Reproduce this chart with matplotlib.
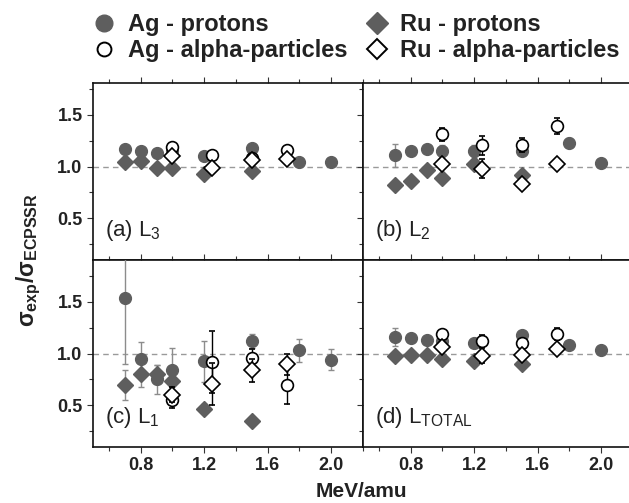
import matplotlib
matplotlib.use("Agg")
import matplotlib.pyplot as plt
from matplotlib.lines import Line2D
from matplotlib.ticker import MultipleLocator

plt.rcParams['font.family'] = ['Liberation Sans', 'DejaVu Sans']
plt.rcParams['mathtext.fontset'] = 'custom'
plt.rcParams['mathtext.rm'] = 'Liberation Sans'
plt.rcParams['mathtext.it'] = 'Liberation Sans:italic'
plt.rcParams['mathtext.bf'] = 'Liberation Sans:bold'

# energies (MeV/amu)
E_ag_p = [0.7, 0.8, 0.9, 1.0, 1.2, 1.5, 1.8, 2.0]
E_ru_p = [0.7, 0.8, 0.9, 1.0, 1.2, 1.5]
E_alpha = [1.0, 1.25, 1.5, 1.72]

# (a) L3
L3_ag_p = [1.17, 1.15, 1.13, 1.15, 1.10, 1.18, 1.04, 1.04]
L3_ag_p_err = [0.03, 0.02, 0.02, 0.02, 0.02, 0.03, 0.02, 0.02]
L3_ru_p = [1.045, 1.05, 0.99, 0.99, 0.93, 0.955]
L3_ru_p_err = [0.02, 0.02, 0.02, 0.02, 0.02, 0.02]
L3_ag_a = [1.19, 1.11, 1.08, 1.16]
L3_ag_a_err = [0.02, 0.02, 0.02, 0.02]
L3_ru_a = [1.105, 0.99, 1.06, 1.07]
L3_ru_a_err = [0.02, 0.02, 0.02, 0.02]

# (b) L2
L2_ag_p = [1.11, 1.15, 1.17, 1.15, 1.15, 1.15, 1.23, 1.035]
L2_ag_p_err = [0.11, 0.02, 0.02, 0.06, 0.06, 0.03, 0.04, 0.02]
L2_ru_p = [0.82, 0.86, 0.97, 0.89, 1.025, 0.92]
L2_ru_p_err = [0.02, 0.02, 0.02, 0.02, 0.02, 0.02]
L2_ag_a = [1.31, 1.205, 1.205, 1.39]
L2_ag_a_err = [0.06, 0.09, 0.07, 0.08]
L2_ru_a = [1.02, 0.98, 0.835, 1.025]
L2_ru_a_err = [0.02, 0.09, 0.02, 0.02]

# (c) L1
L1_ag_p = [1.535, 0.95, 0.75, 0.84, 0.925, 1.12, 1.03, 0.94]
L1_ag_p_err = [0.64, 0.16, 0.14, 0.21, 0.20, 0.07, 0.11, 0.10]
L1_ru_p = [0.695, 0.80, 0.80, 0.735, 0.47, 0.35]
L1_ru_p_err = [0.145, 0.12, 0.09, 0.10, 0.04, 0.02]
L1_ag_a = [0.55, 0.92, 0.96, 0.70]
L1_ag_a_err = [0.07, 0.30, 0.08, 0.19]
L1_ru_a = [0.605, 0.705, 0.84, 0.895]
L1_ru_a_err = [0.07, 0.20, 0.11, 0.10]

# (d) LTOTAL
Lt_ag_p = [1.16, 1.145, 1.13, 1.12, 1.10, 1.175, 1.08, 1.03]
Lt_ag_p_err = [0.09, 0.02, 0.02, 0.02, 0.02, 0.03, 0.02, 0.02]
Lt_ru_p = [0.975, 0.985, 0.985, 0.95, 0.93, 0.895]
Lt_ru_p_err = [0.02, 0.02, 0.02, 0.02, 0.02, 0.02]
Lt_ag_a = [1.19, 1.12, 1.10, 1.19]
Lt_ag_a_err = [0.03, 0.06, 0.03, 0.06]
Lt_ru_a = [1.06, 0.98, 0.99, 1.04]
Lt_ru_a_err = [0.03, 0.07, 0.03, 0.03]

panels = [
    ("(a) L$_{3}$", L3_ag_p, L3_ag_p_err, L3_ru_p, L3_ru_p_err, L3_ag_a, L3_ag_a_err, L3_ru_a, L3_ru_a_err),
    ("(b) L$_{2}$", L2_ag_p, L2_ag_p_err, L2_ru_p, L2_ru_p_err, L2_ag_a, L2_ag_a_err, L2_ru_a, L2_ru_a_err),
    ("(c) L$_{1}$", L1_ag_p, L1_ag_p_err, L1_ru_p, L1_ru_p_err, L1_ag_a, L1_ag_a_err, L1_ru_a, L1_ru_a_err),
    ("(d) L$_{\\mathrm{TOTAL}}$", Lt_ag_p, Lt_ag_p_err, Lt_ru_p, Lt_ru_p_err, Lt_ag_a, Lt_ag_a_err, Lt_ru_a, Lt_ru_a_err),
]

x_major = [0.8, 1.2, 1.6, 2.0]
ylims = [(0.1, 1.8), (0.1, 1.9)]

GREY = '#5e5e5e'
EGREY = '#8c8c8c'
ms_c = 8.5
ms_d = 8.0

fig = plt.figure(figsize=(6.29, 5.03), dpi=100)
W = 270 / 629
PX_PER_UNIT = 187 / 1.8
lefts = [93 / 629, 363 / 629]
row_bottom_px = [260, 447]

axes = []
for i, p in enumerate(panels):
    r, c = divmod(i, 2)
    y0, y1 = ylims[r]
    h_px = (y1 - y0) * PX_PER_UNIT
    ax = fig.add_axes([lefts[c], 1 - row_bottom_px[r] / 503, W, h_px / 503])
    axes.append(ax)
    label, agp, agpe, rup, rupe, aga, agae, rua, ruae = p
    ax.axhline(1.0, color='#9a9a9a', lw=1.0, ls=(0, (4, 3)), zorder=1)
    ax.errorbar(E_ag_p, agp, yerr=agpe, fmt='o', color=GREY, ecolor=EGREY,
                ms=ms_c, mec=GREY, elinewidth=1, capsize=2.5, capthick=1, zorder=3)
    ax.errorbar(E_ru_p, rup, yerr=rupe, fmt='D', color=GREY, ecolor=EGREY,
                ms=ms_d, mec=GREY, elinewidth=1, capsize=2.5, capthick=1, zorder=3)
    ax.errorbar(E_alpha, aga, yerr=agae, fmt='o', mfc='white', mec='black', mew=1.2,
                ecolor='black', ms=ms_c, elinewidth=1, capsize=2.5, capthick=1, zorder=4)
    ax.errorbar(E_alpha, rua, yerr=ruae, fmt='D', mfc='white', mec='black', mew=1.2,
                ecolor='black', ms=ms_d, elinewidth=1, capsize=2.5, capthick=1, zorder=5)
    ax.set_xlim(0.5, 2.2)
    ax.set_ylim(y0, y1)
    ax.set_xticks(x_major)
    ax.xaxis.set_minor_locator(MultipleLocator(0.2))
    ax.yaxis.set_major_locator(MultipleLocator(0.5))
    ax.yaxis.set_minor_locator(MultipleLocator(0.25))
    ax.tick_params(which='both', direction='out', top=True, right=True, width=0.8, color='#333333')
    ax.tick_params(which='major', length=4)
    ax.tick_params(which='minor', length=3)
    ax.tick_params(labelsize=13)
    for lab in ax.get_xticklabels() + ax.get_yticklabels():
        lab.set_fontweight('bold')
        lab.set_color('#222222')
    if r == 0:
        ax.tick_params(labelbottom=False)
    if c == 1:
        ax.tick_params(labelleft=False)
    for s in ax.spines.values():
        s.set_linewidth(1.2)
        s.set_color('#111111')
    ax.text(0.045, 0.09 * 1.8 / (y1 - y0), label, transform=ax.transAxes, fontsize=16,
            color='#222222', ha='left', va='bottom')

fig.text(0.575, 0.003, 'MeV/amu', fontsize=15, fontweight='bold', ha='center', va='bottom',
         color='#222222')
fig.text(0.045, 0.483, '$\\mathbf{\u03c3_{exp}/\u03c3_{ECPSSR}}$', fontsize=16.5, rotation=90,
         ha='center', va='center', color='#222222')

handles = [
    Line2D([], [], ls='none', marker='o', color=GREY, ms=12),
    Line2D([], [], ls='none', marker='o', mfc='white', mec='black', mew=1.4, ms=10),
    Line2D([], [], ls='none', marker='D', color=GREY, ms=11.5),
    Line2D([], [], ls='none', marker='D', mfc='white', mec='black', mew=1.4, ms=10),
]
labels = ['Ag - protons', 'Ag - alpha-particles', 'Ru - protons', 'Ru - alpha-particles']
leg = fig.legend(handles, labels, loc='upper left', bbox_to_anchor=(0.115, 1.012), ncol=2,
                 frameon=False, prop={'weight': 'bold', 'size': 17}, handletextpad=0.45,
                 columnspacing=0.7, labelspacing=0.15, handlelength=1.1, borderpad=0.3)
for t in leg.get_texts():
    t.set_color('#222222')

fig.savefig('out.png', dpi=100)
